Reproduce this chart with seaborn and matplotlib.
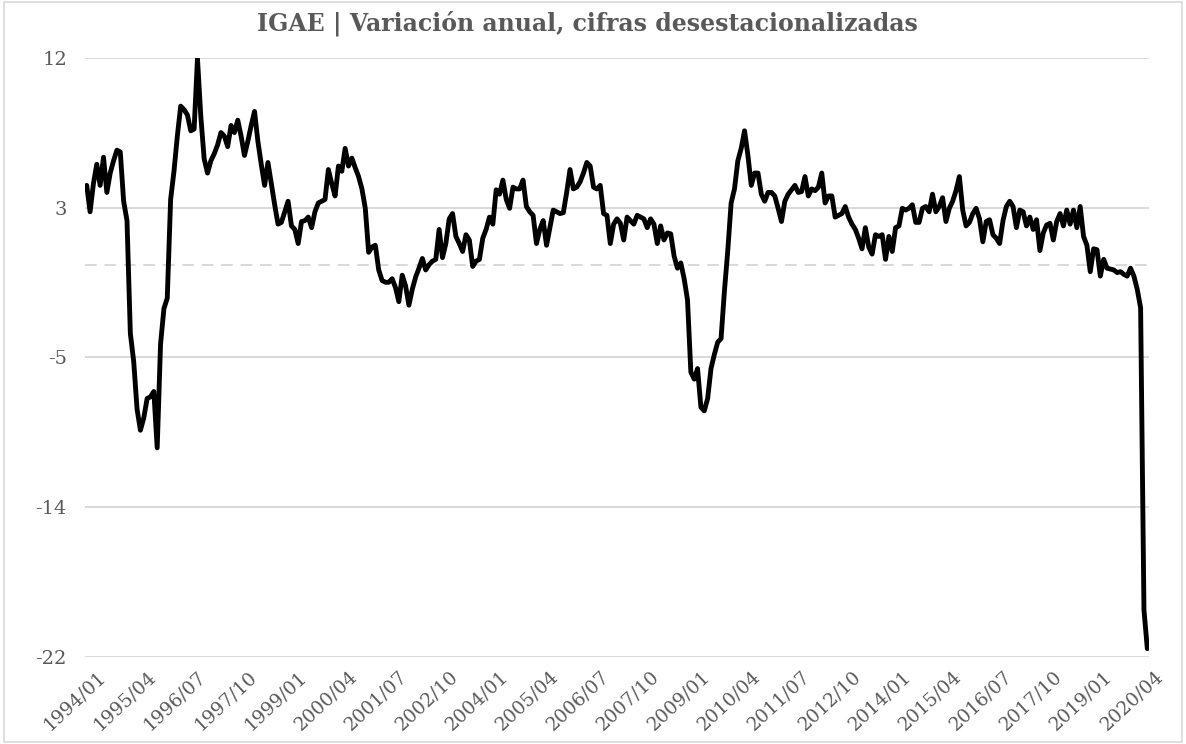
import matplotlib
matplotlib.use("Agg")
import matplotlib.pyplot as plt
import matplotlib.patches as patches
import matplotlib.transforms as mtransforms
import seaborn as sns
import pandas as pd
import numpy as np

# IGAE, variacion anual (%), cifras desestacionalizadas, 1994/01 - 2020/05
start_period = "1994-01"
igae_values = [
    # 1994
    4.5, 3.0, 4.6, 5.7, 4.5, 6.1, 4.1, 5.2, 5.9, 6.5, 6.4, 3.6,
    # 1995
    2.5, -3.9, -5.5, -8.2, -9.4, -8.7, -7.6, -7.5, -7.2, -10.4, -4.5, -2.5,
    # 1996
    -1.9, 3.7, 5.3, 7.3, 9.0, 8.8, 8.5, 7.6, 7.7, 11.7, 8.4, 6.0,
    # 1997
    5.2, 5.9, 6.3, 6.8, 7.5, 7.3, 6.7, 7.9, 7.5, 8.2, 7.3, 6.2,
    # 1998
    7.0, 7.9, 8.7, 7.0, 5.7, 4.5, 5.8, 4.6, 3.4, 2.3, 2.4, 3.0,
    # 1999
    3.6, 2.2, 2.0, 1.2, 2.45, 2.5, 2.7, 2.1, 3.0, 3.5, 3.6, 3.7,
    # 2000
    5.4, 4.6, 3.9, 5.6, 5.3, 6.6, 5.6, 6.05, 5.5, 5.0, 4.3, 3.2,
    # 2001
    0.7, 1.0, 1.1, -0.3, -0.9, -1.0, -1.0, -0.8, -1.3, -2.1, -0.6, -1.2,
    # 2002
    -2.3, -1.4, -0.7, -0.2, 0.35, -0.3, 0.0, 0.2, 0.3, 2.0, 0.4, 1.2,
    # 2003
    2.6, 2.9, 1.6, 1.2, 0.75, 1.7, 1.4, -0.1, 0.2, 0.3, 1.5, 2.0,
    # 2004
    2.7, 2.3, 4.25, 4.0, 4.8, 3.7, 3.2, 4.4, 4.3, 4.3, 4.8, 3.3,
    # 2005
    3.0, 2.8, 1.2, 2.0, 2.5, 1.1, 2.1, 3.1, 3.0, 2.9, 2.95, 4.1,
    # 2006
    5.4, 4.3, 4.4, 4.7, 5.2, 5.8, 5.6, 4.4, 4.3, 4.5, 2.9, 2.8,
    # 2007
    1.2, 2.3, 2.6, 2.35, 1.4, 2.7, 2.5, 2.3, 2.8, 2.7, 2.6, 2.1,
    # 2008
    2.6, 2.3, 1.2, 2.2, 1.4, 1.8, 1.75, 0.5, -0.2, 0.1, -0.8, -2.0,
    # 2009
    -6.1, -6.5, -5.9, -8.1, -8.3, -7.6, -5.9, -5.1, -4.4, -4.2, -1.5, 0.8,
    # 2010
    3.5, 4.3, 5.9, 6.6, 7.6, 6.2, 4.5, 5.2, 5.2, 4.0, 3.6, 4.1,
    # 2011
    4.1, 3.9, 3.2, 2.45, 3.6, 4.0, 4.25, 4.5, 4.1, 4.15, 5.0, 3.9,
    # 2012
    4.3, 4.2, 4.4, 5.2, 3.5, 3.9, 3.9, 2.7, 2.8, 2.9, 3.3, 2.7,
    # 2013
    2.3, 2.0, 1.5, 0.9, 2.1, 1.0, 0.6, 1.7, 1.6, 1.7, 0.3, 1.6,
    # 2014
    0.75, 2.1, 2.2, 3.2, 3.1, 3.2, 3.4, 2.4, 2.4, 3.2, 3.3, 3.0,
    # 2015
    4.0, 3.0, 3.3, 3.8, 2.45, 3.2, 3.6, 4.2, 5.0, 3.1, 2.2, 2.4,
    # 2016
    2.9, 3.2, 2.6, 1.3, 2.45, 2.55, 1.7, 1.5, 1.2, 2.5, 3.3, 3.6,
    # 2017
    3.3, 2.1, 3.1, 3.0, 2.2, 2.7, 2.0, 2.55, 0.8, 1.8, 2.25, 2.35,
    # 2018
    1.4, 2.45, 2.9, 2.2, 3.1, 2.3, 3.1, 2.1, 3.3, 1.6, 1.1, -0.4,
    # 2019
    0.9, 0.85, -0.65, 0.3, -0.2, -0.25, -0.3, -0.45, -0.4, -0.55, -0.65, -0.2,
    # 2020
    -0.65, -1.4, -2.45, -19.6, -21.8,
]

y_tick_labels = ["-22", "-14", "-5", "3", "12"]
y_min, y_max = -22.27, 11.73
x_label_step = 15

title_text = "IGAE | Variación anual, cifras desestacionalizadas"


def main():
    periods = pd.period_range(start_period, periods=len(igae_values), freq="M")
    df = pd.DataFrame({
        "idx": np.arange(len(igae_values)),
        "periodo": periods.strftime("%Y/%m"),
        "variacion": igae_values,
    })

    sns.set_style("white")
    plt.rcParams["font.family"] = ["DejaVu Serif", "DejaVu Sans"]

    fig = plt.figure(figsize=(11.86, 7.44), dpi=100)
    ax = fig.add_axes([0.0717, 0.117, 0.8971, 0.805])

    # lineas de referencia
    for v in np.linspace(y_min, y_max, 5):
        ax.axhline(v, color="#d9d9d9", linewidth=1.4, zorder=0)
    ax.axhline(0, color="#d9d9d9", linewidth=1.4, linestyle=(0, (6, 4)), zorder=0)

    sns.lineplot(data=df, x="idx", y="variacion", color="black",
                 linewidth=3.5, ax=ax, zorder=3)

    ax.set_xlim(-0.5, len(igae_values) - 0.5)
    ax.set_ylim(y_min, y_max)
    ax.set_yticks(np.linspace(y_min, y_max, 5))
    ax.set_yticklabels(y_tick_labels)

    tick_pos = df["idx"][::x_label_step]
    ax.set_xticks(tick_pos)
    ax.set_xticklabels(df["periodo"][::x_label_step], rotation=43,
                       ha="right", rotation_mode="anchor")

    ax.tick_params(axis="both", length=0, colors="#595959")
    ax.tick_params(axis="y", pad=13, labelsize=14)
    ax.tick_params(axis="x", pad=4, labelsize=13.5)
    # desplazar etiquetas del eje x un poco a la derecha y abajo
    shift = mtransforms.ScaledTranslation(0.10, -0.05, fig.dpi_scale_trans)
    for lbl in ax.get_xticklabels():
        lbl.set_transform(lbl.get_transform() + shift)
    ax.set_xlabel("")
    ax.set_ylabel("")
    sns.despine(ax=ax, left=True, bottom=True)

    fig.text(0.495, 0.969, title_text, ha="center", va="center",
             fontsize=17, fontweight="bold", color="#595959")

    # borde del grafico
    fig.patches.append(patches.Rectangle((0.003, 0.003), 0.994, 0.994,
                                         transform=fig.transFigure,
                                         fill=False, edgecolor="#d9d9d9",
                                         linewidth=1.2))

    fig.savefig("out.png", dpi=100)


if __name__ == "__main__":
    main()
